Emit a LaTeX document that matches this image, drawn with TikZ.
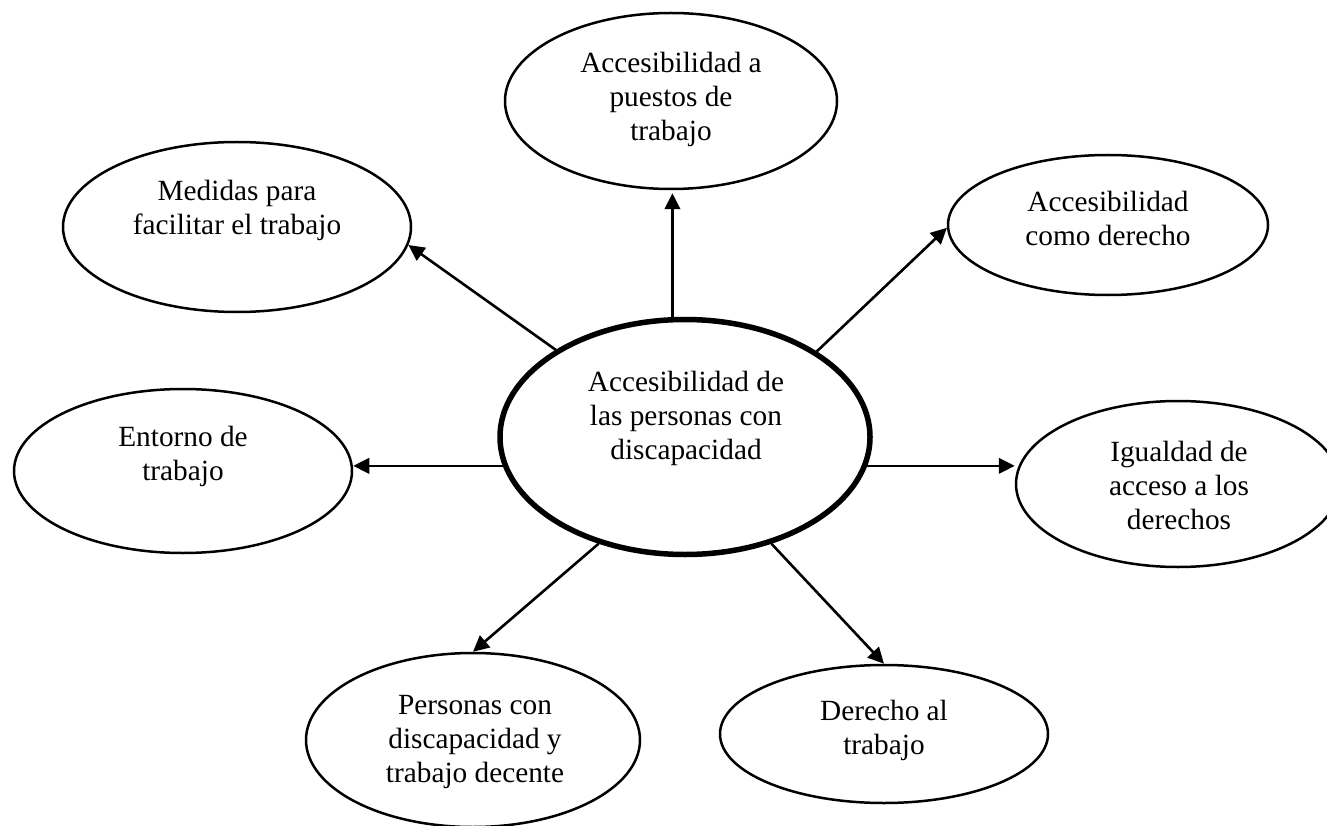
\documentclass[tikz,border=0pt]{standalone}
\usepackage{fontspec}
\setmainfont{Liberation Serif}
\usetikzlibrary{shapes.geometric,arrows.meta,calc}
\tikzset{
  oval/.style n args={2}{ellipse, draw=black, line width=2.5pt, minimum width=#1, minimum height=#2, inner sep=0pt},
  txt/.style={align=center, inner sep=0pt, font=\fontsize{29.3}{34}\selectfont},
  arr/.style={-{Triangle[length=16pt,width=15.5pt]}, line width=2.6pt}
}
\begin{document}
\begin{tikzpicture}[x=1pt,y=-1pt]
\useasboundingbox (0,0) rectangle (1327,826);
% ellipses
\node[oval={370pt}{235pt}, line width=5.5pt] (c) at (685,437) {};
\node[oval={332pt}{176pt}] (t) at (671,101) {};
\node[oval={348pt}{170pt}] (m) at (237,227) {};
\node[oval={320pt}{140pt}] (a) at (1108,225) {};
\node[oval={338pt}{164pt}] (e) at (183,471) {};
\node[oval={324pt}{166pt}] (i) at (1178,484) {};
\node[oval={334pt}{174pt}] (p) at (473,740) {};
\node[oval={328pt}{138pt}] (d) at (884,734) {};
% texts
\node[txt] (ct) at (686,418) {Accesibilidad de\\las personas con\\discapacidad};
\node[txt] (tt) at (671,99) {Accesibilidad a\\puestos de\\trabajo};
\node[txt] (mt) at (237,210) {Medidas para\\facilitar el trabajo};
\node[txt] (at) at (1108,218) {Accesibilidad\\como derecho};
\node[txt] (et) at (183,456) {Entorno de\\trabajo};
\node[txt] (it) at (1179,485) {Igualdad de\\acceso a los\\derechos};
\node[txt] (pt) at (475,742) {Personas con\\discapacidad y\\trabajo decente};
\node[txt] (dt) at (884,730) {Derecho al\\trabajo};
% connectors
\draw[arr, shorten >=3pt] (c.96) -- (c.96 |- t.south);
\draw[arr] (c.146) -- (m.-6);
\draw[arr] (c.33) -- (a.181);
\draw[arr] (c.189) -- (c.189 -| e.east);
\draw[arr] (c.-9) -- (c.-9 -| i.west);
\draw[arr] (c.231) -- (p.north);
\draw[arr] (c.-51) -- (d.north);
\end{tikzpicture}
\end{document}
